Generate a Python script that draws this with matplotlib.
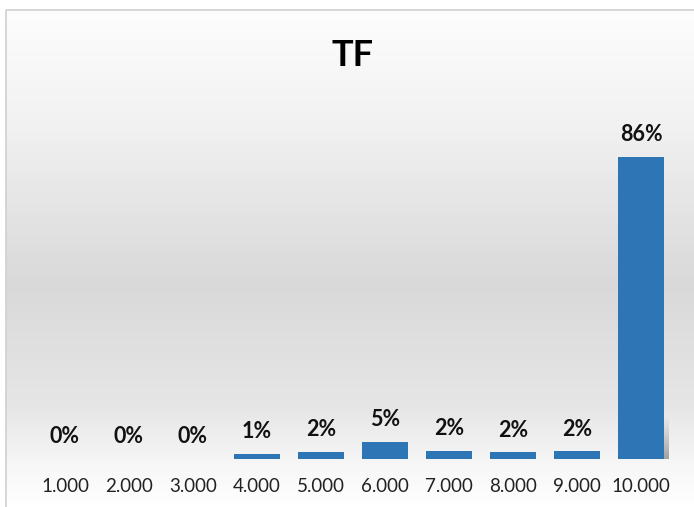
import numpy as np
import matplotlib
matplotlib.use("Agg")
import matplotlib.pyplot as plt
from matplotlib.colors import LinearSegmentedColormap
from matplotlib.patches import Rectangle

categories = ["1.000", "2.000", "3.000", "4.000", "5.000",
              "6.000", "7.000", "8.000", "9.000", "10.000"]
values = [0.0, 0.0, 0.0, 1.4, 2.0, 4.8, 2.4, 1.9, 2.2, 85.6]
title = "TF"
bar_color = "#2E75B6"

W, H = 694, 507
fig = plt.figure(figsize=(W / 100, H / 100), dpi=100)
fig.patch.set_facecolor("white")

# background gradient panel
bg = fig.add_axes([0, 0, 1, 1])
bg.set_xlim(0, W)
bg.set_ylim(H, 0)
bg.axis("off")
cmap = LinearSegmentedColormap.from_list(
    "g", [(0.0, "#fdfdfd"), (0.22, "#f2f2f2"), (0.55, "#d9d9d9"),
          (0.80, "#e6e6e6"), (0.92, "#f7f7f7"), (1.0, "#ffffff")])
grad = np.linspace(0, 1, 256).reshape(-1, 1)
bg.imshow(grad, aspect="auto", cmap=cmap, extent=[6, W + 2, H, 10], zorder=0)
bg.add_patch(Rectangle((6, 10), W, H, fill=False, edgecolor="#d0d0d0", lw=1.2, zorder=1))

# main axes: left px 33, right px 673, bottom px 459, top px 106
x0, x1, yb, yt = 33, 673, 459, 106
ax = fig.add_axes([x0 / W, 1 - yb / H, (x1 - x0) / W, (yb - yt) / H])
ax.patch.set_alpha(0)
x = np.arange(len(categories))
bars = ax.bar(x, values, width=0.72, color=bar_color, zorder=3)
for s in ax.spines.values():
    s.set_visible(False)
ax.set_yticks([])
ax.set_xticks(x)
ax.set_xticklabels(categories, fontsize=13.5, family="Lato", color="#222222")
ax.tick_params(axis="x", length=0, pad=14)

# subtle shadow to the right of the tallest bar
imax = int(np.argmax(values))
shadow = np.linspace(0, 1, 50).reshape(-1, 1)
ax.imshow(shadow, extent=[imax + 0.36, imax + 0.43, 0, 12], aspect="auto",
          cmap=LinearSegmentedColormap.from_list("s", [(0, (0.6, 0.6, 0.6, 0.0)), (1, (0.55, 0.55, 0.55, 0.8))]),
          zorder=2)
ax.set_xlim(-0.5, len(categories) - 0.5)
ax.set_ylim(0, 100)

for xi, v in zip(x, values):
    ax.annotate(f"{v:.0f}%", (xi, v), xytext=(0, 16), textcoords="offset points",
                ha="center", va="center", fontsize=15.5, fontweight="bold",
                family="Lato", color="#111111")

fig.text(353 / W, 1 - 56 / H, title, ha="center", va="center",
         fontsize=26, fontweight="bold", family="Lato", color="black")

fig.savefig("out.png", dpi=100)
